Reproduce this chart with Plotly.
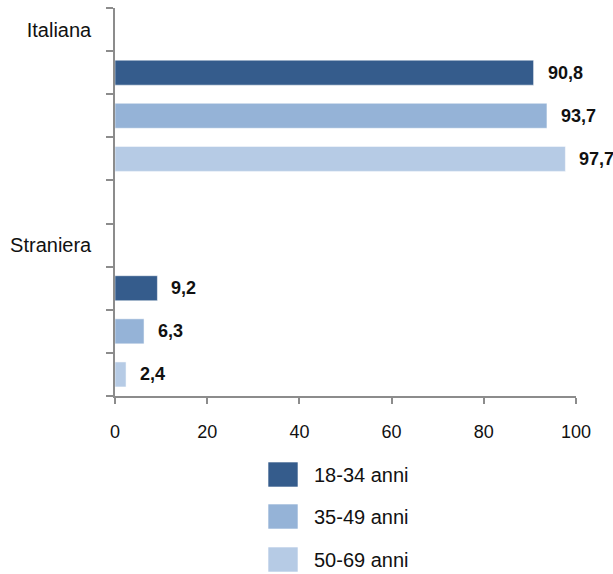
import plotly.graph_objects as go

categories = ["Italiana", "Straniera"]
series_names = ["18-34 anni", "35-49 anni", "50-69 anni"]
values_18_34 = [90.8, 9.2]
values_35_49 = [93.7, 6.3]
values_50_69 = [97.7, 2.4]
series_values = [values_18_34, values_35_49, values_50_69]
colors = ["#355C8C", "#95B3D7", "#B6CBE5"]
x_ticks = [0, 20, 40, 60, 80, 100]

W, H = 613, 574
L, R, T, B = 115, 37, 8, 178
PH = H - T - B

FONT = "Liberation Sans Narrow, Arial Narrow, Liberation Sans, Arial, sans-serif"

# slot layout: label row, 3 bars, gap row, label row, 3 bars
n_series = len(series_names)
group_span = n_series + 2
cat_pos = [g * group_span for g in range(len(categories))]
n_slots = cat_pos[-1] + n_series + 1

fig = go.Figure()
annotations = []
for s, (name, vals, col) in enumerate(zip(series_names, series_values, colors)):
    ys = [cat_pos[g] + 1 + s for g in range(len(categories))]
    fig.add_trace(go.Bar(
        x=vals, y=ys, orientation="h", name=name,
        marker=dict(color=col, line=dict(color="rgba(255,255,255,0.5)", width=1)),
        width=0.58, showlegend=False, hoverinfo="x+name",
    ))
    for v, y in zip(vals, ys):
        annotations.append(dict(
            x=v, y=y, xref="x", yref="y", text=f"{v:.1f}".replace(".", ","),
            showarrow=False, xanchor="left", yanchor="middle", xshift=12,
            font=dict(family=FONT, size=18, color="#111111", weight="bold"),
        ))

def py(p):
    return (H - B - p) / PH

def px(p):
    return (p - L) / (W - L - R)

shapes = []
legend_rows = [474.5, 516.5, 559.5]
for name, col, yc in zip(series_names, colors, legend_rows):
    shapes.append(dict(type="rect", xref="paper", yref="paper",
                       x0=px(268), x1=px(298), y0=py(yc - 12.5), y1=py(yc + 12.5),
                       fillcolor=col, line=dict(color="rgba(255,255,255,0.6)", width=1)))
    annotations.append(dict(x=px(312), y=py(yc), xref="paper", yref="paper",
                            text=name, showarrow=False,
                            xanchor="left", yanchor="middle",
                            font=dict(family=FONT, size=20, color="#111111")))

fig.update_layout(
    width=W, height=H,
    margin=dict(l=L, r=R, t=T, b=B, pad=0, autoexpand=False),
    paper_bgcolor="white", plot_bgcolor="white",
    barmode="overlay",
    showlegend=False,
    font=dict(family=FONT, size=16, color="#111111"),
    annotations=annotations, shapes=shapes,
)
fig.update_xaxes(
    range=[0, 100], tickvals=x_ticks, ticktext=[str(t) for t in x_ticks],
    showline=True, linecolor="#8C8C8C", linewidth=1.5,
    ticks="outside", ticklen=6, tickcolor="#8C8C8C", tickwidth=1.5,
    showgrid=False, zeroline=False, ticklabelstandoff=13, automargin=False,
    tickfont=dict(family=FONT, size=18, color="#111111"),
)
fig.update_yaxes(
    range=[n_slots - 0.5, -0.5],
    tickvals=cat_pos, ticktext=categories, ticks="",
    minor=dict(tickmode="linear", tick0=-0.5, dtick=1, ticks="outside",
               ticklen=7, tickcolor="#8C8C8C", tickwidth=1.5, showgrid=False),
    showline=True, linecolor="#8C8C8C", linewidth=1.5,
    showgrid=False, zeroline=False, ticklabelstandoff=18, automargin=False,
    tickfont=dict(family=FONT, size=20, color="#111111"),
)

fig.write_html(
    "out.html",
    config={"displayModeBar": False},
    post_script="document.body.style.margin='0';document.body.style.overflow='hidden';",
)
